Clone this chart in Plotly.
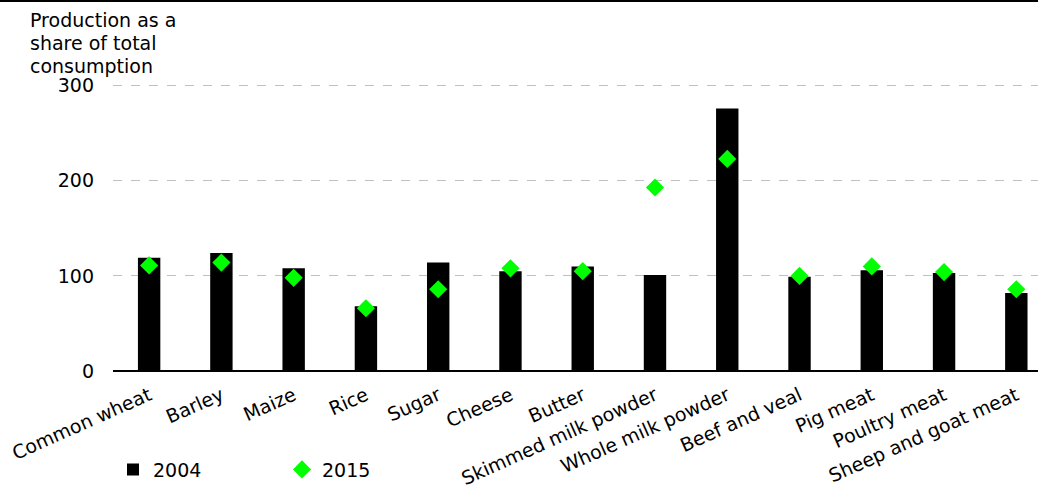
import plotly.graph_objects as go

categories = ["Common wheat", "Barley", "Maize", "Rice", "Sugar", "Cheese", "Butter",
              "Skimmed milk powder", "Whole milk powder", "Beef and veal", "Pig meat",
              "Poultry meat", "Sheep and goat meat"]
values_2004 = [119, 124, 108, 68, 114, 105, 110, 101, 276, 99, 106, 103, 82]
values_2015 = [111, 114, 98, 66, 86, 108, 105, 193, 223, 100, 110, 104, 86]
y_ticks = [0, 100, 200, 300]
title_lines = ["Production as a", "share of total", "consumption"]

FONT = "DejaVu Sans, Verdana, sans-serif"
FS = 19
x_idx = list(range(len(categories)))

fig = go.Figure()
fig.add_trace(go.Bar(
    x=x_idx, y=values_2004, name="2004", width=0.31,
    marker=dict(color="#000000", line=dict(width=0)),
))
fig.add_trace(go.Scatter(
    x=x_idx, y=values_2015, name="2015", mode="markers",
    marker=dict(symbol="diamond", color="#00FF00", size=14, line=dict(width=0)),
))

fig.update_layout(
    width=1038, height=486,
    margin=dict(l=113, r=0, t=81, b=115, autoexpand=False),
    paper_bgcolor="white", plot_bgcolor="white",
    font=dict(family=FONT, size=FS, color="#000000"),
    showlegend=True,
    legend=dict(orientation="h", x=0.0, y=-0.34, xanchor="left", yanchor="middle",
                itemwidth=30, entrywidth=124, font=dict(size=FS),
                bgcolor="rgba(0,0,0,0)"),
    xaxis=dict(
        tickmode="array", tickvals=x_idx, ticktext=categories,
        range=[-0.5, 12.3], tickangle=-24, showgrid=False, automargin=False,
        showline=False, zeroline=False, ticks="", ticklabelstandoff=9, fixedrange=True,
    ),
    yaxis=dict(
        range=[0, 305], tickvals=y_ticks, showgrid=True, automargin=False,
        gridcolor="#c0c0c0", griddash="dash", gridwidth=1,
        zeroline=True, zerolinecolor="#000000", zerolinewidth=1.5,
        showline=False, ticks="", ticklabelstandoff=18, fixedrange=True,
    ),
    bargap=0.5,
    hovermode=False,
)

# title lines placed individually for tighter line spacing
for i, line in enumerate(title_lines):
    fig.add_annotation(
        text=line, xref="paper", yref="paper",
        x=-0.0919, y=1.2552 - i * 0.0793, xanchor="left", yanchor="top",
        align="left", showarrow=False, font=dict(size=FS, color="#000000"),
    )
fig.add_shape(type="line", xref="paper", yref="paper", x0=-0.5, x1=1.0,
              y0=1.276, y1=1.276, line=dict(color="#000000", width=2))

fig.write_html("out.html", config={"displayModeBar": False},
               post_script="document.body.style.margin='0px';")
